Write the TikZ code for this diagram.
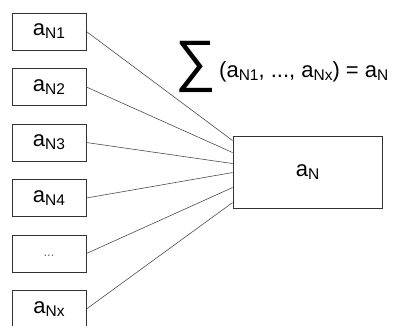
\documentclass[tikz,border=0pt]{standalone}
\usepackage{fontspec}
\setmainfont{Liberation Sans}
\usetikzlibrary{calc}
\def\boxsep{55.5}
\tikzstyle{link} = [draw=black!70, line width=0.6pt]
\newcommand{\aN}[1]{a\raisebox{-3pt}{\fontsize{15.5}{15.5}\selectfont N#1}}

\begin{document}
\begin{tikzpicture}[x=1pt,y=-1pt, font=\fontsize{22}{24}\selectfont]
    \tikzstyle{in box}=[draw=black!80, line width=0.9pt, minimum width=74pt, minimum height=37pt, inner sep=0pt]
    \tikzstyle{sum box}=[in box, minimum width=149pt, minimum height=72pt]
    \useasboundingbox (0,0) rectangle (395,325);

    % Draw the input boxes
    \foreach \name / \t in {1/\aN{1},2/\aN{2},3/\aN{3},4/\aN{4},6/\aN{x}}
        \path
            node[in box] (I-\name) at (49,{31.5+(\name-1)*\boxsep}) {\t};
    \path
        node[in box, text=black!60] (I-5) at (49,{31.5+4*\boxsep}) {\fontsize{13}{13}\selectfont\raisebox{-6pt}{...}};

    % Draw the sum box
    \path
        node[sum box] (S) at (307.5,172) {\aN{}};

    % Draw the sum label
    \node (sigma) at (196,67) {\fontsize{57}{57}\selectfont ∑};
    \node[anchor=base west, inner sep=0pt] (L) at (219,77) {(\aN{1}, ..., \aN{x}) = \aN{}};

    % Draw the links
    \foreach \name / \dy in {1/5,2/17,3/28,4/37,5/52,6/67}
        \draw[link] (I-\name.east) -- ([yshift=-\dy pt]S.north west);
\end{tikzpicture}
\end{document}
